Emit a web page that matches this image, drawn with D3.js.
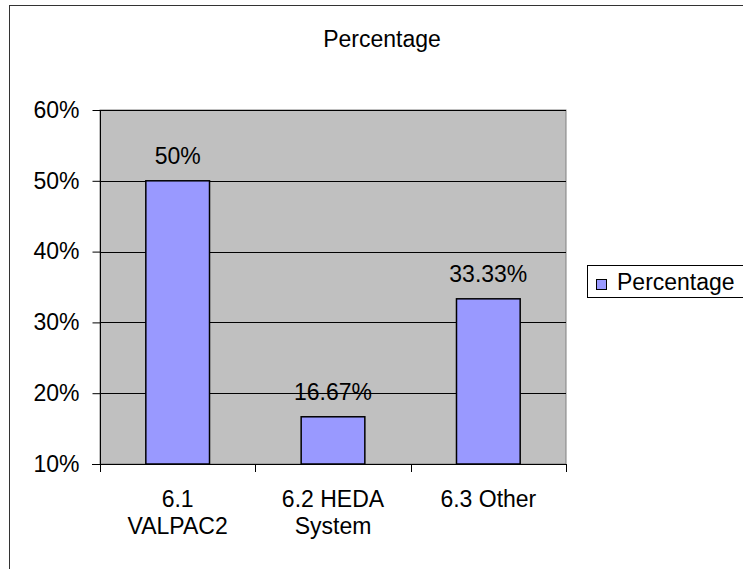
<!DOCTYPE html>
<html>
<head>
<meta charset="utf-8">
<script src="https://cdn.jsdelivr.net/npm/d3@7"></script>
<style>
  html, body { margin: 0; padding: 0; background: #fff; }
  svg { display: block; font-family: "Liberation Sans", Arial, sans-serif; }
</style>
</head>
<body>
<svg id="chart" width="743" height="569"></svg>
<script>
// Chart data
const categories = [["6.1", "VALPAC2"], ["6.2 HEDA", "System"], ["6.3 Other"]];
const values = [50, 16.67, 33.33];
const valueLabels = ["50%", "16.67%", "33.33%"];
const yTicks = [10, 20, 30, 40, 50, 60];
const seriesName = "Percentage";
const chartTitle = "Percentage";

const FONT = 23;
const svg = d3.select("#chart");
const plot = { left: 100, right: 566, top: 110, bottom: 464 };

// Outer chart frame
svg.append("rect")
  .attr("x", 9.5).attr("y", 5.5)
  .attr("width", 800).attr("height", 700)
  .attr("fill", "#fff").attr("stroke", "#333").attr("stroke-width", 1);

const x = d3.scaleBand()
  .domain(d3.range(categories.length))
  .range([plot.left, plot.right])
  .paddingInner(0.59).paddingOuter(0.295);

const y = d3.scaleLinear().domain([10, 60]).range([plot.bottom, plot.top]);

// Plot background
svg.append("rect")
  .attr("x", plot.left).attr("y", plot.top)
  .attr("width", plot.right - plot.left).attr("height", plot.bottom - plot.top)
  .attr("fill", "#c0c0c0").attr("stroke", "#808080");

// Gridlines
svg.append("g").selectAll("line").data(yTicks.slice(1)).join("line")
  .attr("x1", plot.left).attr("x2", plot.right)
  .attr("y1", d => Math.round(y(d)) + 0.5).attr("y2", d => Math.round(y(d)) + 0.5)
  .attr("stroke", "#000").attr("stroke-width", 1);

// Bars
svg.append("g").selectAll("rect").data(values).join("rect")
  .attr("x", (d, i) => x(i))
  .attr("y", d => y(d))
  .attr("width", x.bandwidth())
  .attr("height", d => plot.bottom - y(d))
  .attr("fill", "#9999ff").attr("stroke", "#000").attr("stroke-width", 1.5);

// Y axis
const yAxis = svg.append("g")
  .attr("transform", `translate(${plot.left + 0.5},0)`)
  .call(d3.axisLeft(y).tickValues(yTicks).tickFormat(d => d + "%").tickSize(8).tickPadding(13));
yAxis.select(".domain").attr("stroke", "#000").attr("d", `M0,${plot.top}V${plot.bottom}`);
yAxis.selectAll(".tick line").attr("stroke", "#000");
yAxis.selectAll(".tick text").attr("font-size", FONT).attr("fill", "#000")
  .attr("font-family", "Liberation Sans, Arial, sans-serif");

// X axis line with category tick marks
const xAxisG = svg.append("g");
xAxisG.append("line")
  .attr("x1", plot.left - 8).attr("x2", plot.right)
  .attr("y1", plot.bottom + 0.5).attr("y2", plot.bottom + 0.5)
  .attr("stroke", "#000");
const boundaries = d3.range(categories.length + 1)
  .map(i => plot.left + i * (plot.right - plot.left) / categories.length);
xAxisG.selectAll("line.tk").data(boundaries).join("line").attr("class", "tk")
  .attr("x1", d => Math.round(d) + 0.5).attr("x2", d => Math.round(d) + 0.5)
  .attr("y1", plot.bottom).attr("y2", plot.bottom + 8)
  .attr("stroke", "#000");

// Category labels
const catText = svg.append("g").selectAll("text").data(categories).join("text")
  .attr("x", (d, i) => x(i) + x.bandwidth() / 2)
  .attr("y", 507)
  .attr("text-anchor", "middle").attr("font-size", FONT).attr("fill", "#000");
catText.selectAll("tspan").data(d => d).join("tspan")
  .attr("x", function () { return d3.select(this.parentNode).attr("x"); })
  .attr("dy", (d, i) => i === 0 ? 0 : 27)
  .text(d => d);

// Value labels
svg.append("g").selectAll("text").data(values).join("text")
  .attr("x", (d, i) => x(i) + x.bandwidth() / 2)
  .attr("y", d => y(d) - 17)
  .attr("text-anchor", "middle").attr("font-size", FONT).attr("fill", "#000")
  .text((d, i) => valueLabels[i]);

// Title
svg.append("text")
  .attr("x", 382).attr("y", 47)
  .attr("text-anchor", "middle").attr("font-size", FONT).attr("fill", "#000")
  .text(chartTitle);

// Legend
const lg = svg.append("g");
lg.append("rect")
  .attr("x", 587.5).attr("y", 265.5).attr("width", 170).attr("height", 32)
  .attr("fill", "#fff").attr("stroke", "#000");
lg.append("rect")
  .attr("x", 596.5).attr("y", 279.5).attr("width", 10).attr("height", 10)
  .attr("fill", "#9999ff").attr("stroke", "#000");
lg.append("text")
  .attr("x", 617).attr("y", 290)
  .attr("font-size", FONT).attr("fill", "#000")
  .text(seriesName);
</script>
</body>
</html>
